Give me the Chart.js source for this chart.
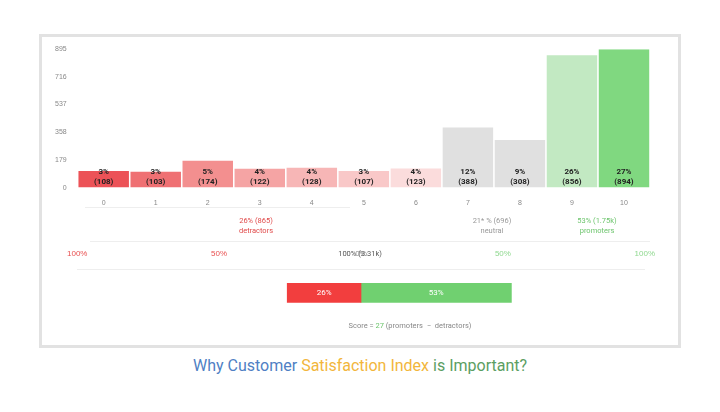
<!DOCTYPE html>
<html><head><meta charset="utf-8">
<script src="https://cdn.jsdelivr.net/npm/chart.js@4"></script>
<style>
body{margin:0;width:720px;height:412px;background:#fff;font-family:Roboto,"Noto Sans",sans-serif;position:relative;overflow:hidden}
#box{position:absolute;left:39px;top:34px;width:636px;height:308px;border:3px solid #e2e2e2}
.t{position:absolute;font-size:7.5px;text-align:center;line-height:10px}
.ln{position:absolute;height:1px;background:#eee}
#c1w{position:absolute;left:52px;top:42px;width:603px;height:168px}
#c2w{position:absolute;left:64px;top:246px;width:594px;height:70px}
#title{position:absolute;left:0;width:720px;top:356px;text-align:center;font-size:16px}
</style></head><body>
<div id="box"></div>
<div id="c1w"><canvas id="c1"></canvas></div>
<div class="ln" style="left:85px;width:265px;top:207px"></div>
<div class="ln" style="left:90px;width:560px;top:241px"></div>
<div class="t" style="left:196px;width:120px;top:216px;color:#e04a4a">26% (865)<br>detractors</div>
<div class="t" style="left:432px;width:120px;top:216px;color:#999">21* % (696)<br>neutral</div>
<div class="t" style="left:537px;width:120px;top:216px;color:#6cc46c">53% (1.75k)<br>promoters</div>
<div class="t" style="left:300px;width:120px;top:249px;color:#555">100% (3.31k)</div>
<div id="c2w"><canvas id="c2"></canvas></div>
<div class="t" style="left:300px;width:220px;top:321px;color:#888">Score = <span style="color:#6cc46c">27</span> (promoters &nbsp;− &nbsp;detractors)</div>
<div id="title"><span style="color:#4f7fc4">Why Customer </span><span style="color:#f2b63c">Satisfaction Index</span><span style="color:#5b9e62"> is Important?</span></div>
<script>
const categories=['0','1','2','3','4','5','6','7','8','9','10'];
const counts=[108,103,174,122,128,107,123,388,308,856,894];
const percents=['3%','3%','5%','4%','4%','3%','4%','12%','9%','26%','27%'];
const yTicks=[0,179,358,537,716,895];
const barColors=['#ec5257','#ef7073','#f38f8f','#f5a4a4','#f7b6b6','#f9c8c8','#fbdcdc','#e0e0e0','#e0e0e0','#c2e9c2','#80d880'];
const npsLabels=['score'];
const detractorPct=[-26];
const promoterPct=[53];
const npsTicks=[-100,-50,0,50,100];
const npsTickColors=['#e85050','#e85050','#888','#8fd88f','#8fd88f'];

const barLabels={id:'bl',afterDatasetsDraw(ch){const c=ch.ctx;const m=ch.getDatasetMeta(0);const y0=ch.scales.y.getPixelForValue(0);
c.save();c.font='bold 8px Roboto';c.fillStyle='#222';c.textAlign='center';
m.data.forEach((b,i)=>{c.fillText(percents[i],b.x,y0-14);c.fillText('('+counts[i]+')',b.x,y0-4);});c.restore();}};
new Chart(document.getElementById('c1'),{type:'bar',
data:{labels:categories,datasets:[{data:counts,backgroundColor:barColors,barPercentage:0.97,categoryPercentage:1}]},
options:{responsive:true,maintainAspectRatio:false,animation:false,plugins:{legend:{display:false},tooltip:{enabled:false}},
layout:{padding:{top:6,right:5}},
scales:{x:{grid:{display:false},border:{display:false},ticks:{color:'#888',font:{size:7}}},
y:{min:0,max:895,afterBuildTicks(a){a.ticks=yTicks.map(v=>({value:v}));},grid:{display:false},border:{display:false},ticks:{color:'#888',font:{size:7}}}}},
plugins:[barLabels]});

const npsText={id:'nt',afterDatasetsDraw(ch){const c=ch.ctx;c.save();c.font='8px Roboto';c.fillStyle='#fff';c.textAlign='center';c.textBaseline='middle';
ch.data.datasets.forEach((d,i)=>{const b=ch.getDatasetMeta(i).data[0];c.fillText(Math.abs(d.data[0])+'%',(b.x+b.base)/2,b.y);});c.restore();}};
new Chart(document.getElementById('c2'),{type:'bar',
data:{labels:npsLabels,datasets:[{data:detractorPct,backgroundColor:'#f23e3e',barPercentage:1,categoryPercentage:1,maxBarThickness:19},{data:promoterPct,backgroundColor:'#70d070',barPercentage:1,categoryPercentage:1,maxBarThickness:19}]},
options:{indexAxis:'y',responsive:true,maintainAspectRatio:false,animation:false,plugins:{legend:{display:false},tooltip:{enabled:false}},
layout:{padding:{left:8,right:8,bottom:0}},
scales:{x:{position:'top',stacked:true,min:-100,max:100,afterBuildTicks(a){a.ticks=npsTicks.map(v=>({value:v}));},
grid:{display:false},border:{color:'#eee'},ticks:{font:{size:8},color:c=>npsTickColors[c.index],callback:v=>Math.abs(v)+'%'}},
y:{stacked:true,display:false}}},plugins:[npsText]});
</script></body></html>
